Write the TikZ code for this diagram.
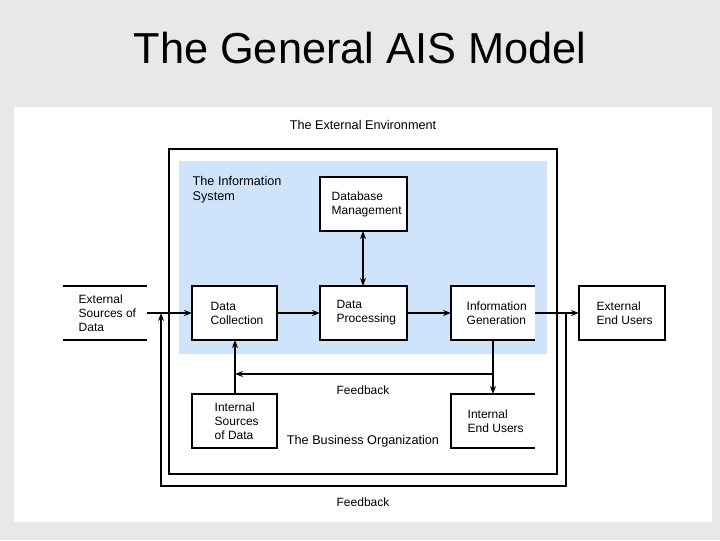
\documentclass[tikz,border=0pt]{standalone}
\usepackage{fontspec}
\setmainfont{Liberation Sans}
\usetikzlibrary{arrows.meta}
\definecolor{bg}{HTML}{E8E8E8}
\definecolor{isblue}{HTML}{CFE3FA}
\begin{document}
\begin{tikzpicture}[x=0.75pt,y=-0.75pt,
  box/.style={draw,line width=0.8pt,fill=white},
  lbl/.style={font=\fontsize{9}{10.5}\selectfont,align=left,anchor=west},
  flow/.style={line width=1.5pt,-{Stealth[length=6pt,width=4.5pt]}},
  bare/.style={line width=0.8pt}]
\fill[bg] (0,0) rectangle (720,540);
\useasboundingbox (0,0) rectangle (720,540);
\fill[white] (14,107) rectangle (712,522);
\node[font=\fontsize{32.5}{36}\selectfont] (title) at (360,48) {The General AIS Model};
\node[font=\fontsize{9.5}{11}\selectfont] (env) at (363,125) {The External Environment};
\draw[bare] (169,149) rectangle (557,474);
\fill[isblue] (179,161) rectangle (547,354);
\node[lbl,font=\fontsize{9.5}{11}\selectfont] (is) at (188,190) {The Information\\System};
\node[font=\fontsize{9.5}{11}\selectfont] (bo) at (363,441) {The Business Organization};
% boxes
\draw[box] (320,177) rectangle (407,231);
\node[lbl] (dbt) at (327,204) {Database\\Management};
\draw[box] (192,286) rectangle (277,340);
\node[lbl] (dct) at (206,313) {Data\\Collection};
\draw[box] (320,286) rectangle (407,340);
\node[lbl] (dpt) at (332,313) {Data\\Processing};
\fill[white] (451,286) rectangle (535,340);
\draw[bare] (535,286) -- (451,286) -- (451,340) -- (535,340);
\node[lbl] (igt) at (462,313) {Information\\Generation};
\draw[box] (579,286) rectangle (665,340);
\node[lbl] (eet) at (592,313) {External\\End Users};
\draw[bare] (63,286) -- (147,286); \draw[bare] (63,340) -- (147,340);
\node[lbl] (est) at (74,313) {External\\Sources of\\Data};
\draw[box] (192,394) rectangle (277,448);
\node[lbl] (ist) at (210,421) {Internal\\Sources\\of Data};
\fill[white] (451,394) rectangle (535,448);
\draw[bare] (535,394) -- (451,394) -- (451,448) -- (535,448);
\node[lbl] (iet) at (463,421) {Internal\\End Users};
% coordinates
\coordinate (esR) at (147,313); \coordinate (dcL) at (192,313);
\coordinate (dcR) at (277,313); \coordinate (dpL) at (320,313);
\coordinate (dpR) at (407,313); \coordinate (igL) at (451,313);
\coordinate (igR) at (535,313); \coordinate (eeL) at (579,313);
\coordinate (dbB) at (363,231); \coordinate (dpT) at (363,286);
\coordinate (igB) at (493,340); \coordinate (ieT) at (493,394);
\coordinate (fbR) at (493,374); \coordinate (fbL) at (235,374);
\coordinate (isT) at (235,394); \coordinate (dcB) at (235,340);
\coordinate (o1) at (566,313); \coordinate (o2) at (566,486);
\coordinate (o3) at (161,486); \coordinate (o4) at (161,313);
\draw[flow] (esR) -- (dcL);
\draw[flow] (dcR) -- (dpL);
\draw[flow] (dpR) -- (igL);
\draw[flow] (igR) -- (eeL);
\draw[line width=1.2pt,{Stealth[length=6pt,width=4.5pt]}-{Stealth[length=6pt,width=4.5pt]}] (dbB) -- (dpT);
\draw[flow] (igB) -- (ieT);
\draw[flow] (fbR) -- (fbL);
\draw[line width=1pt,-{Stealth[length=6pt,width=4.5pt]}] (isT) -- (dcB);
\draw[flow] (o1) -- (o2) -- (o3) -- (o4);
\node[font=\fontsize{9}{10.5}\selectfont] (fb1) at (363,390) {Feedback};
\node[font=\fontsize{9}{10.5}\selectfont] (fb2) at (363,502) {Feedback};
\end{tikzpicture}
\end{document}
